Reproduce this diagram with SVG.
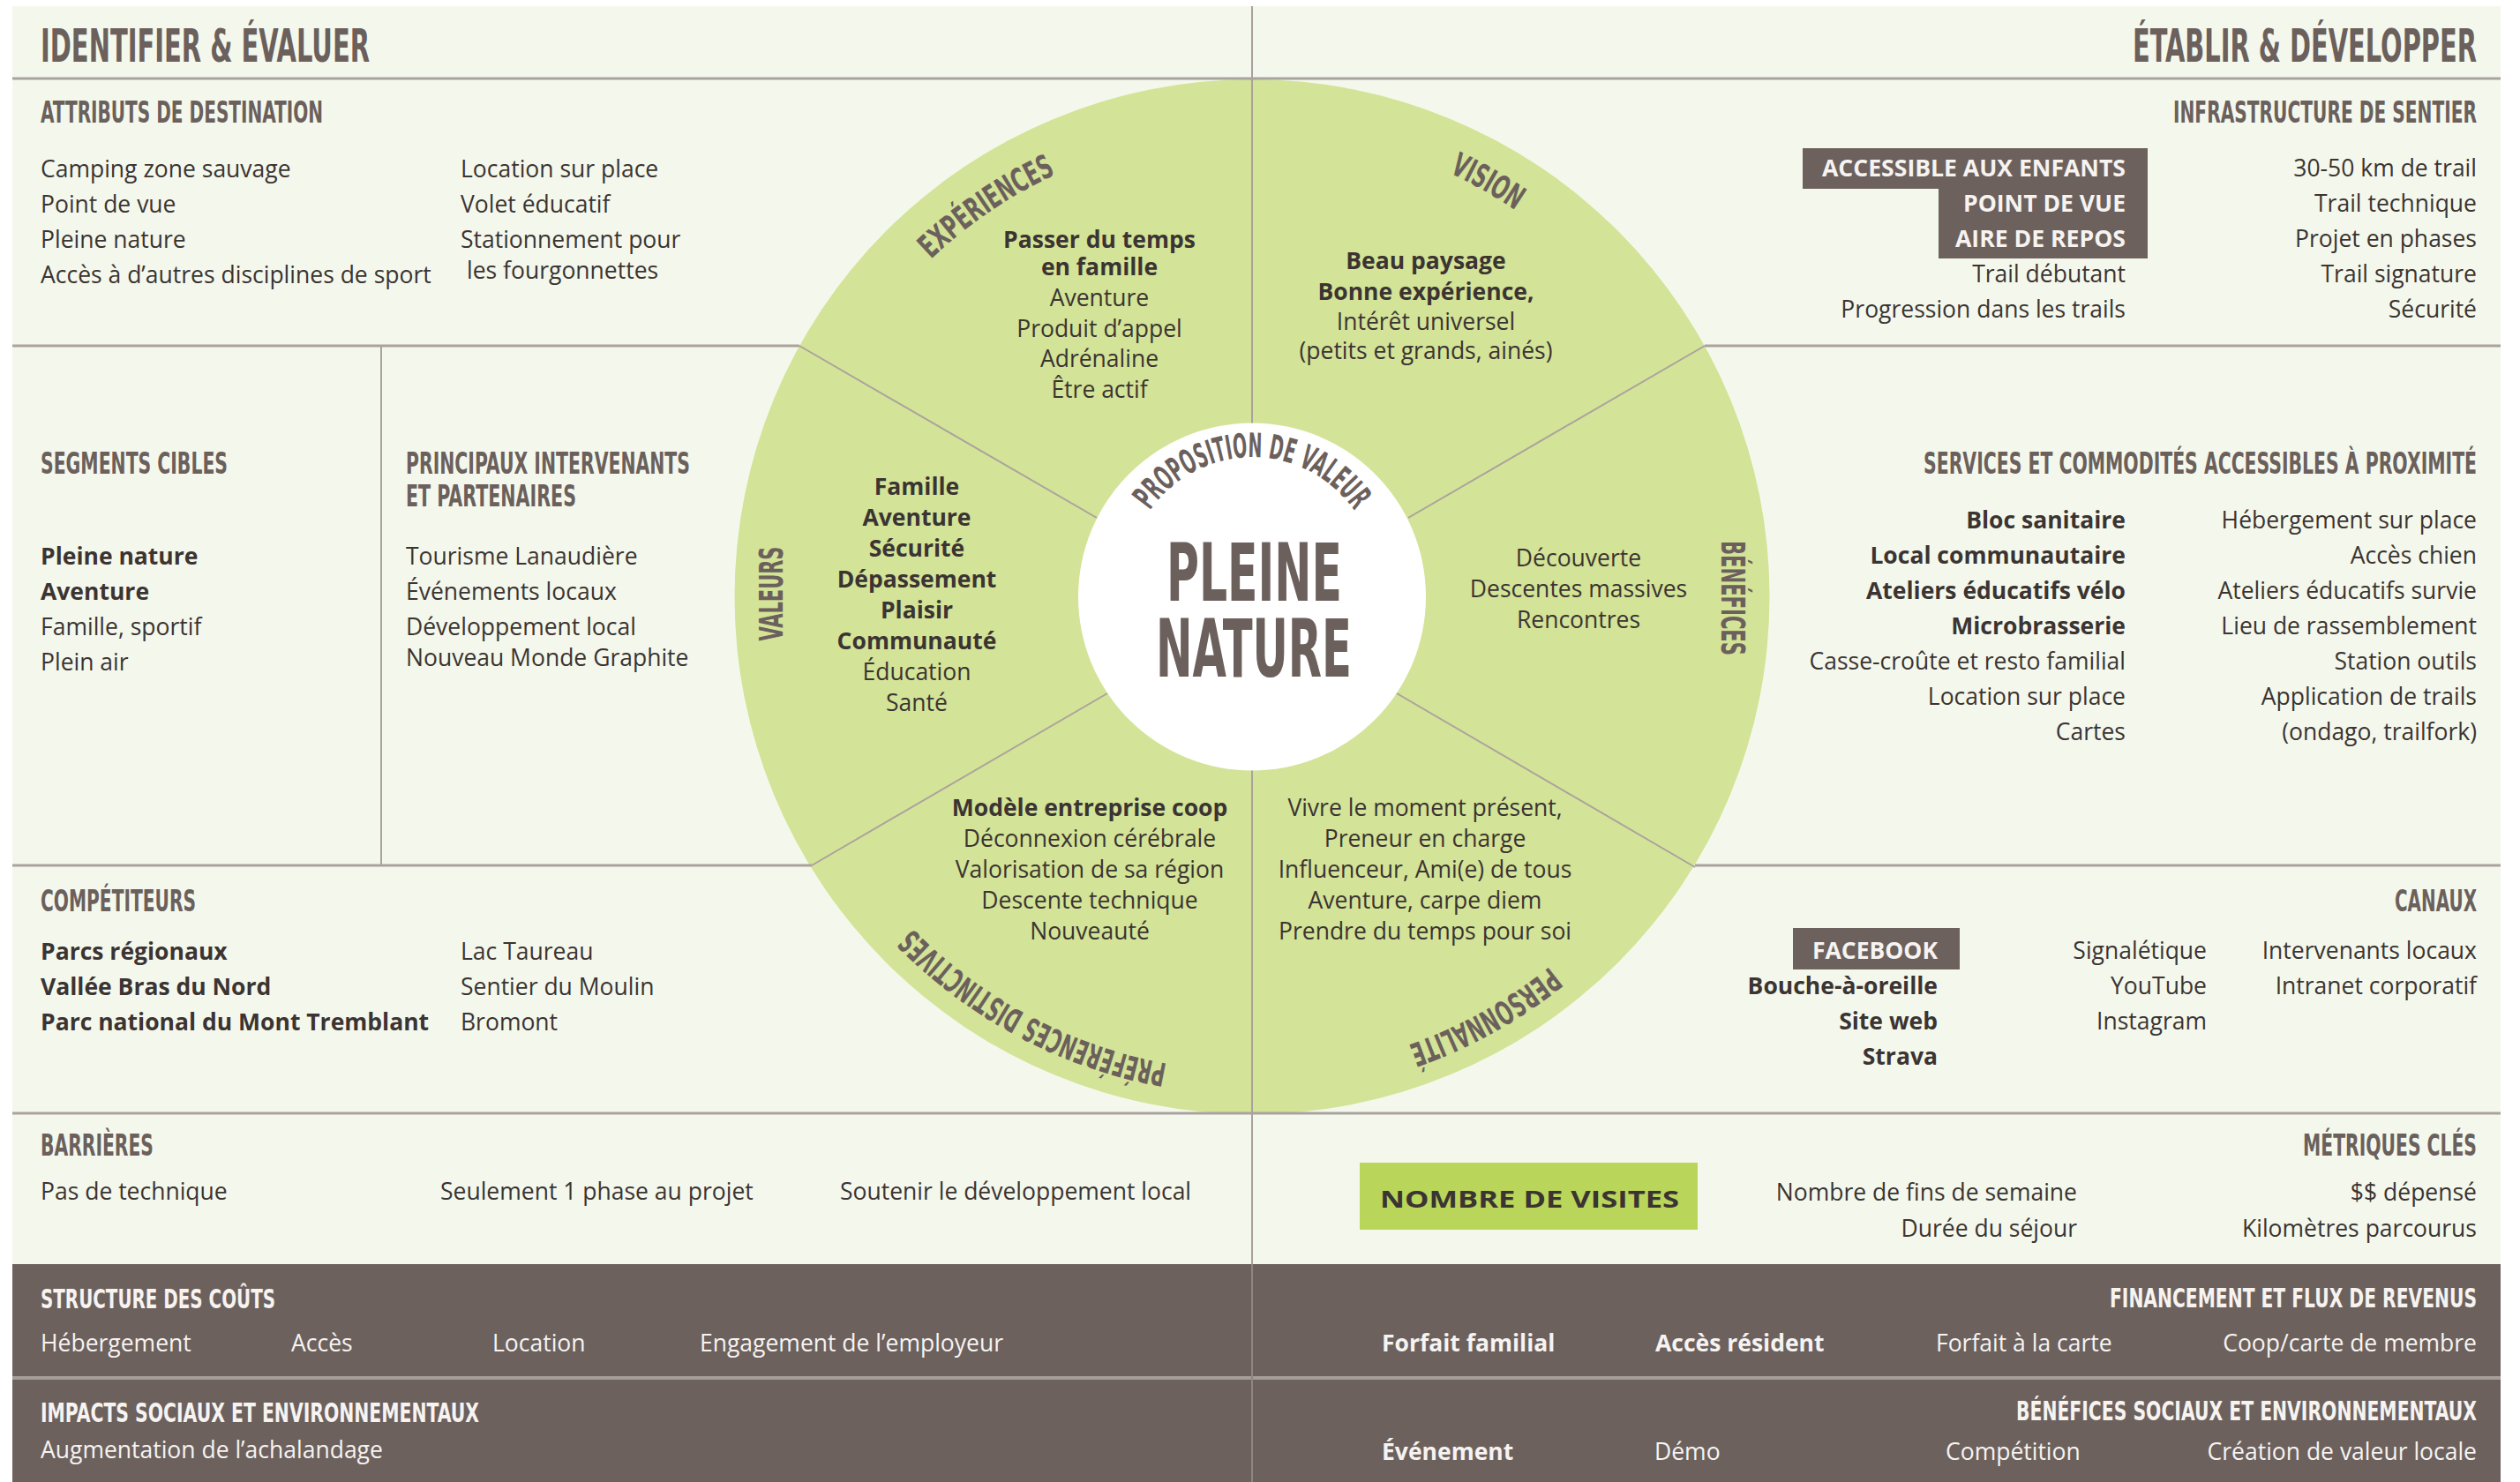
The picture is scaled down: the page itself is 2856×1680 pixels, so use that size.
<svg xmlns="http://www.w3.org/2000/svg" width="2856" height="1680" viewBox="0 0 2856 1680">
<style>
.t{font-family:"Liberation Sans Narrow","DejaVu Sans Condensed","Liberation Sans",sans-serif;font-weight:700;fill:#6b605c}
.tw{fill:#f6f3f1}
.b{font-family:"Open Sans","Liberation Sans",sans-serif;font-size:26.5px;fill:#3b3432}
.s{font-size:26.5px}
.bb{font-weight:700}
.w{fill:#f6f3f1}
.m{text-anchor:middle}
.e{text-anchor:end}
.ln{stroke:#aaa29e;stroke-width:3;fill:none}
.lt{stroke:#aaa29e;stroke-width:2;fill:none}
</style>
<defs>
<path id="arcExp" d="M910.8,533.2 A528,528 0 0 1 1471.9,151.1"/>
<path id="arcVis" d="M1323.3,155.2 A530,530 0 0 1 1915.8,491.7"/>
<path id="arcPer" d="M1921.3,869.3 A538,538 0 0 1 1316.3,1204.6"/>
<path id="arcPre" d="M1620.5,1175.3 A538,538 0 0 1 892.8,788.4"/>
<path id="arcProp" d="M1278.2,651.7 A141,141 0 0 1 1559.8,651.7"/>
</defs>

<rect x="14" y="7" width="2820" height="1673" fill="#f4f8ec"/>
<rect x="14" y="1433" width="2820" height="247" fill="#6c615d"/>

<g id="wheel">
<circle cx="1419" cy="676.5" r="586.5" fill="#d3e397"/>
<circle cx="1419" cy="676.5" r="197" fill="#ffffff"/>
</g>

<g id="connectors">
<line class="ln" x1="14" y1="89" x2="2834" y2="89"/>
<line class="ln" x1="14" y1="392" x2="906" y2="392"/>
<line class="ln" x1="1932" y1="392" x2="2834" y2="392"/>
<line class="ln" x1="14" y1="981" x2="920" y2="981"/>
<line class="ln" x1="1921" y1="981" x2="2834" y2="981"/>
<line class="ln" x1="14" y1="1262" x2="2834" y2="1262"/>
<line x1="14" y1="1562" x2="2834" y2="1562" stroke="#a59d99" stroke-width="4"/>
<line class="lt" x1="432" y1="392" x2="432" y2="981"/>
<line class="lt" x1="1419" y1="7" x2="1419" y2="479.5"/>
<line class="lt" x1="1419" y1="873.5" x2="1419" y2="1433"/>
<line x1="1419" y1="1433" x2="1419" y2="1680" stroke="#8f8582" stroke-width="2"/>
<line class="lt" x1="906" y1="392" x2="1243" y2="587"/>
<line class="lt" x1="1932" y1="392" x2="1596" y2="587"/>
<line class="lt" x1="920" y1="981" x2="1255" y2="786"/>
<line class="lt" x1="1921" y1="983" x2="1583" y2="786"/>
</g>

<g id="headers">
<text class="t" x="46" y="70" font-size="52" textLength="373" lengthAdjust="spacingAndGlyphs">IDENTIFIER &amp; ÉVALUER</text>
<text class="t" x="2417" y="70" font-size="52" textLength="390" lengthAdjust="spacingAndGlyphs">ÉTABLIR &amp; DÉVELOPPER</text>
</g>

<g id="attributs">
<text class="t" x="46" y="139" font-size="33" textLength="320" lengthAdjust="spacingAndGlyphs">ATTRIBUTS DE DESTINATION</text>
<text class="b" x="46" y="201">Camping zone sauvage</text>
<text class="b" x="46" y="241">Point de vue</text>
<text class="b" x="46" y="281">Pleine nature</text>
<text class="b" x="46" y="321">Accès à d’autres disciplines de sport</text>
<text class="b" x="522" y="201">Location sur place</text>
<text class="b" x="522" y="241">Volet éducatif</text>
<text class="b" x="522" y="281">Stationnement pour</text>
<text class="b" x="529" y="316">les fourgonnettes</text>
</g>

<g id="infrastructure">
<text class="t" x="2463" y="139" font-size="33" textLength="344" lengthAdjust="spacingAndGlyphs">INFRASTRUCTURE DE SENTIER</text>
<polygon points="2043,168 2434,168 2434,293 2197,293 2197,214 2043,214" fill="#6c615d"/>
<text class="b bb w e" x="2409" y="200" font-size="25" textLength="344" lengthAdjust="spacingAndGlyphs">ACCESSIBLE AUX ENFANTS</text>
<text class="b bb w e" x="2409" y="240" font-size="25" textLength="184" lengthAdjust="spacingAndGlyphs">POINT DE VUE</text>
<text class="b bb w e" x="2409" y="280" font-size="25" textLength="193" lengthAdjust="spacingAndGlyphs">AIRE DE REPOS</text>
<text class="b e" x="2409" y="320">Trail débutant</text>
<text class="b e" x="2409" y="360">Progression dans les trails</text>
<text class="b e" x="2807" y="200">30-50 km de trail</text>
<text class="b e" x="2807" y="240">Trail technique</text>
<text class="b e" x="2807" y="280">Projet en phases</text>
<text class="b e" x="2807" y="320">Trail signature</text>
<text class="b e" x="2807" y="360">Sécurité</text>
</g>

<g id="segments">
<text class="t" x="46" y="537" font-size="33" textLength="212" lengthAdjust="spacingAndGlyphs">SEGMENTS CIBLES</text>
<text class="b bb" x="46" y="640">Pleine nature</text>
<text class="b bb" x="46" y="680">Aventure</text>
<text class="b" x="46" y="720">Famille, sportif</text>
<text class="b" x="46" y="760">Plein air</text>
</g>

<g id="intervenants">
<text class="t" x="460" y="537" font-size="33" textLength="322" lengthAdjust="spacingAndGlyphs">PRINCIPAUX INTERVENANTS</text>
<text class="t" x="460" y="574" font-size="33" textLength="193" lengthAdjust="spacingAndGlyphs">ET PARTENAIRES</text>
<text class="b" x="460" y="640">Tourisme Lanaudière</text>
<text class="b" x="460" y="680">Événements locaux</text>
<text class="b" x="460" y="720">Développement local</text>
<text class="b" x="460" y="755">Nouveau Monde Graphite</text>
</g>

<g id="services">
<text class="t" x="2180" y="537" font-size="33" textLength="627" lengthAdjust="spacingAndGlyphs">SERVICES ET COMMODITÉS ACCESSIBLES À PROXIMITÉ</text>
<text class="b bb e" x="2409" y="599">Bloc sanitaire</text>
<text class="b bb e" x="2409" y="639">Local communautaire</text>
<text class="b bb e" x="2409" y="679">Ateliers éducatifs vélo</text>
<text class="b bb e" x="2409" y="719">Microbrasserie</text>
<text class="b e" x="2409" y="759">Casse-croûte et resto familial</text>
<text class="b e" x="2409" y="799">Location sur place</text>
<text class="b e" x="2409" y="839">Cartes</text>
<text class="b e" x="2807" y="599">Hébergement sur place</text>
<text class="b e" x="2807" y="639">Accès chien</text>
<text class="b e" x="2807" y="679">Ateliers éducatifs survie</text>
<text class="b e" x="2807" y="719">Lieu de rassemblement</text>
<text class="b e" x="2807" y="759">Station outils</text>
<text class="b e" x="2807" y="799">Application de trails</text>
<text class="b e" x="2807" y="839">(ondago, trailfork)</text>
</g>

<g id="competiteurs">
<text class="t" x="46" y="1033" font-size="33" textLength="176" lengthAdjust="spacingAndGlyphs">COMPÉTITEURS</text>
<text class="b bb" x="46" y="1088">Parcs régionaux</text>
<text class="b bb" x="46" y="1128">Vallée Bras du Nord</text>
<text class="b bb" x="46" y="1168">Parc national du Mont Tremblant</text>
<text class="b" x="522" y="1088">Lac Taureau</text>
<text class="b" x="522" y="1128">Sentier du Moulin</text>
<text class="b" x="522" y="1168">Bromont</text>
</g>

<g id="canaux">
<text class="t" x="2714" y="1033" font-size="33" textLength="93" lengthAdjust="spacingAndGlyphs">CANAUX</text>
<rect x="2032" y="1052" width="189" height="47" fill="#6c615d"/>
<text class="b bb w e" x="2196" y="1087" font-size="25" textLength="142" lengthAdjust="spacingAndGlyphs">FACEBOOK</text>
<text class="b bb e" x="2196" y="1127">Bouche-à-oreille</text>
<text class="b bb e" x="2196" y="1167">Site web</text>
<text class="b bb e" x="2196" y="1207">Strava</text>
<text class="b e" x="2501" y="1087">Signalétique</text>
<text class="b e" x="2501" y="1127">YouTube</text>
<text class="b e" x="2501" y="1167">Instagram</text>
<text class="b e" x="2807" y="1087">Intervenants locaux</text>
<text class="b e" x="2807" y="1127">Intranet corporatif</text>
</g>

<g id="barrieres">
<text class="t" x="46" y="1310" font-size="33" textLength="128" lengthAdjust="spacingAndGlyphs">BARRIÈRES</text>
<text class="b" x="46" y="1360">Pas de technique</text>
<text class="b" x="499" y="1360">Seulement 1 phase au projet</text>
<text class="b" x="952" y="1360">Soutenir le développement local</text>
</g>

<g id="metriques">
<text class="t" x="2610" y="1310" font-size="33" textLength="197" lengthAdjust="spacingAndGlyphs">MÉTRIQUES CLÉS</text>
<rect x="1541" y="1318" width="383" height="76" fill="#b9d65b"/>
<text class="b bb" x="1564" y="1369" font-size="33" fill="#2e2a28" textLength="339" lengthAdjust="spacingAndGlyphs">NOMBRE DE VISITES</text>
<text class="b e" x="2354" y="1361">Nombre de fins de semaine</text>
<text class="b e" x="2354" y="1402">Durée du séjour</text>
<text class="b e" x="2807" y="1361">$$ dépensé</text>
<text class="b e" x="2807" y="1402">Kilomètres parcourus</text>
</g>

<g id="couts">
<text class="t tw" x="46" y="1483" font-size="31" textLength="266" lengthAdjust="spacingAndGlyphs">STRUCTURE DES COÛTS</text>
<text class="b w" x="46" y="1532">Hébergement</text>
<text class="b w" x="330" y="1532">Accès</text>
<text class="b w" x="558" y="1532">Location</text>
<text class="b w" x="793" y="1532">Engagement de l’employeur</text>
</g>

<g id="impacts">
<text class="t tw" x="46" y="1612" font-size="31" textLength="497" lengthAdjust="spacingAndGlyphs">IMPACTS SOCIAUX ET ENVIRONNEMENTAUX</text>
<text class="b w" x="46" y="1653">Augmentation de l’achalandage</text>
</g>

<g id="financement">
<text class="t tw" x="2391" y="1482" font-size="31" textLength="416" lengthAdjust="spacingAndGlyphs">FINANCEMENT ET FLUX DE REVENUS</text>
<text class="b bb w" x="1566" y="1532">Forfait familial</text>
<text class="b bb w" x="1876" y="1532">Accès résident</text>
<text class="b w" x="2194" y="1532">Forfait à la carte</text>
<text class="b w e" x="2807" y="1532">Coop/carte de membre</text>
</g>

<g id="benefices-sociaux">
<text class="t tw" x="2285" y="1610" font-size="31" textLength="522" lengthAdjust="spacingAndGlyphs">BÉNÉFICES SOCIAUX ET ENVIRONNEMENTAUX</text>
<text class="b bb w" x="1566" y="1655">Événement</text>
<text class="b w" x="1875" y="1655">Démo</text>
<text class="b w" x="2205" y="1655">Compétition</text>
<text class="b w e" x="2807" y="1655">Création de valeur locale</text>
</g>

<g id="experiences">
<text class="t" font-size="37"><textPath href="#arcExp" startOffset="50%" text-anchor="middle" textLength="172" lengthAdjust="spacingAndGlyphs">EXPÉRIENCES</textPath></text>
<text class="b s bb m" x="1246" y="281">Passer du temps</text>
<text class="b s bb m" x="1246" y="312">en famille</text>
<text class="b s m" x="1246" y="347">Aventure</text>
<text class="b s m" x="1246" y="382">Produit d’appel</text>
<text class="b s m" x="1246" y="416">Adrénaline</text>
<text class="b s m" x="1246" y="451">Être actif</text>
</g>

<g id="vision">
<text class="t" font-size="37"><textPath href="#arcVis" startOffset="50%" text-anchor="middle" textLength="86" lengthAdjust="spacingAndGlyphs">VISION</textPath></text>
<text class="b s bb m" x="1616" y="305">Beau paysage</text>
<text class="b s bb m" x="1616" y="340">Bonne expérience,</text>
<text class="b s m" x="1616" y="374">Intérêt universel</text>
<text class="b s m" x="1616" y="407">(petits et grands, ainés)</text>
</g>

<g id="valeurs">
<text class="t m" font-size="37" transform="translate(887,673) rotate(-90)" textLength="107" lengthAdjust="spacingAndGlyphs">VALEURS</text>
<text class="b s bb m" x="1039" y="561">Famille</text>
<text class="b s bb m" x="1039" y="596">Aventure</text>
<text class="b s bb m" x="1039" y="631">Sécurité</text>
<text class="b s bb m" x="1039" y="666">Dépassement</text>
<text class="b s bb m" x="1039" y="701">Plaisir</text>
<text class="b s bb m" x="1039" y="736">Communauté</text>
<text class="b s m" x="1039" y="771">Éducation</text>
<text class="b s m" x="1039" y="806">Santé</text>
</g>

<g id="benefices">
<text class="t m" font-size="37" transform="translate(1951,678) rotate(90)" textLength="130" lengthAdjust="spacingAndGlyphs">BÉNÉFICES</text>
<text class="b s m" x="1789" y="642">Découverte</text>
<text class="b s m" x="1789" y="677">Descentes massives</text>
<text class="b s m" x="1789" y="712">Rencontres</text>
</g>

<g id="preferences">
<text class="t" font-size="37"><textPath href="#arcPre" startOffset="50%" text-anchor="middle" textLength="332" lengthAdjust="spacingAndGlyphs">PRÉFÉRENCES DISTINCTIVES</textPath></text>
<text class="b s bb m" x="1235" y="925">Modèle entreprise coop</text>
<text class="b s m" x="1235" y="960">Déconnexion cérébrale</text>
<text class="b s m" x="1235" y="995">Valorisation de sa région</text>
<text class="b s m" x="1235" y="1030">Descente technique</text>
<text class="b s m" x="1235" y="1065">Nouveauté</text>
</g>

<g id="personnalite">
<text class="t" font-size="37"><textPath href="#arcPer" startOffset="50%" text-anchor="middle" textLength="184" lengthAdjust="spacingAndGlyphs">PERSONNALITÉ</textPath></text>
<text class="b s m" x="1615" y="925">Vivre le moment présent,</text>
<text class="b s m" x="1615" y="960">Preneur en charge</text>
<text class="b s m" x="1615" y="995">Influenceur, Ami(e) de tous</text>
<text class="b s m" x="1615" y="1030">Aventure, carpe diem</text>
<text class="b s m" x="1615" y="1065">Prendre du temps pour soi</text>
</g>

<g id="proposition">
<text class="t" font-size="38"><textPath href="#arcProp" startOffset="50%" text-anchor="middle" textLength="272" lengthAdjust="spacingAndGlyphs">PROPOSITION DE VALEUR</textPath></text>
<text class="t" x="1322" y="681" font-size="90" textLength="199" lengthAdjust="spacingAndGlyphs">PLEINE</text>
<text class="t" x="1310" y="767" font-size="90" textLength="222" lengthAdjust="spacingAndGlyphs">NATURE</text>
</g>
</svg>
